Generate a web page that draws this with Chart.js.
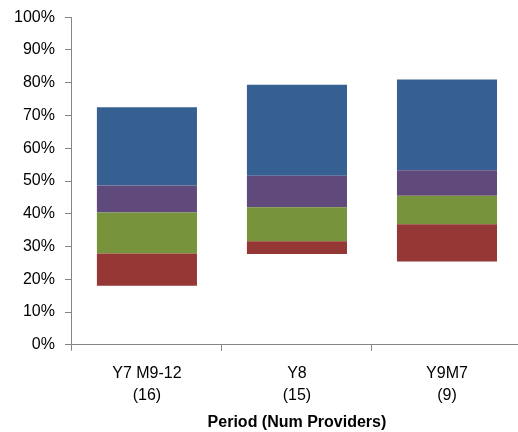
<!DOCTYPE html>
<html>
<head>
<meta charset="utf-8">
<script src="https://cdn.jsdelivr.net/npm/chart.js@4"></script>
<style>
  html, body { margin: 0; padding: 0; background: #fff; overflow: hidden; }
  #wrap { width: 524px; height: 432px; }
</style>
</head>
<body>
<div id="wrap"><canvas id="chart"></canvas></div>
<script>
// categories
const periods = [['Y7 M9-12', '(16)'], ['Y8', '(15)'], ['Y9M7', '(9)']];

// invisible offset under each bar (%)
const baseValues = [18.0, 27.7, 25.4];
// stacked segments, bottom to top (%)
const redValues = [9.9, 3.9, 11.4];
const greenValues = [12.5, 10.4, 8.7];
const purpleValues = [8.2, 9.6, 7.8];
const blueValues = [23.9, 27.8, 27.7];

const yTicks = [0, 10, 20, 30, 40, 50, 60, 70, 80, 90, 100];

const font = 'Liberation Sans, Arial, sans-serif';

function segment(label, data, color) {
    return {
        label: label,
        data: data,
        backgroundColor: color,
        borderWidth: 0,
        barPercentage: 0.667,
        categoryPercentage: 1.0
    };
}

new Chart(document.getElementById('chart'), {
    type: 'bar',
    data: {
        labels: periods,
        datasets: [
            segment('base', baseValues, 'rgba(0,0,0,0)'),
            segment('red', redValues, '#953735'),
            segment('green', greenValues, '#77933c'),
            segment('purple', purpleValues, '#604a7b'),
            segment('blue', blueValues, '#376092')
        ]
    },
    options: {
        responsive: true,
        maintainAspectRatio: false,
        animation: false,
        layout: { padding: { left: 4, top: 0, right: 2, bottom: 0 } },
        plugins: {
            legend: { display: false },
            tooltip: { enabled: false }
        },
        scales: {
            x: {
                stacked: true,
                grid: {
                    offset: true,
                    drawOnChartArea: false,
                    drawTicks: true,
                    tickLength: 6,
                    color: '#868686'
                },
                border: { color: '#868686', width: 1 },
                ticks: {
                    color: '#000',
                    padding: 12,
                    maxRotation: 0,
                    font: { family: font, size: 16, lineHeight: 1.375 }
                },
                title: {
                    display: true,
                    text: 'Period (Num Providers)',
                    color: '#000',
                    padding: { top: -6, bottom: 0 },
                    font: { family: font, size: 16, weight: 'bold' }
                }
            },
            y: {
                stacked: true,
                min: 0,
                max: 100,
                afterBuildTicks: (axis) => {
                    axis.ticks = yTicks.map(v => ({ value: v }));
                },
                grid: {
                    drawOnChartArea: false,
                    drawTicks: true,
                    tickLength: 7,
                    color: '#868686'
                },
                border: { color: '#868686', width: 1 },
                ticks: {
                    color: '#000',
                    padding: 10,
                    font: { family: font, size: 16, lineHeight: 0.9 },
                    callback: (v) => v + '%'
                }
            }
        }
    }
});
</script>
</body>
</html>
